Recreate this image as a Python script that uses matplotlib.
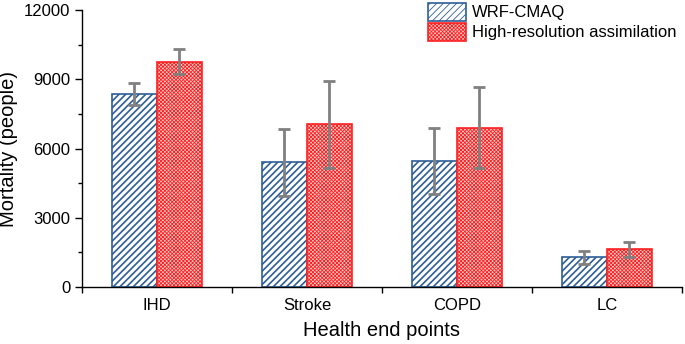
import numpy as np
import matplotlib
matplotlib.use("Agg")
import matplotlib.pyplot as plt
from matplotlib.ticker import MultipleLocator, FixedLocator

plt.rcParams['font.family'] = ['Liberation Sans', 'DejaVu Sans']

# veriler
kategoriler = ["IHD", "Stroke", "COPD", "LC"]
wrf_cmaq = [8360, 5400, 5460, 1280]
wrf_hata = [480, 1450, 1420, 270]
yuksek_coz = [9760, 7050, 6900, 1630]
yuksek_hata = [540, 1880, 1750, 320]

fig = plt.figure(figsize=(6.85, 3.44), dpi=100)
ax = fig.add_axes([0.1197, 0.1657, 0.8759, 0.8052])

x = np.arange(1, len(kategoriler) + 1)
w = 0.3

plt.rcParams['hatch.linewidth'] = 1.2
ax.bar(x - w / 2, wrf_cmaq, w, facecolor="white", edgecolor="#2E5E97",
       hatch="/////", linewidth=1.2, label="WRF-CMAQ", zorder=2)
plt.rcParams['hatch.linewidth'] = 0.6
ax.bar(x + w / 2, yuksek_coz, w, facecolor="#FCCACA", edgecolor="#FF2020",
       hatch="xxxxxxxxx", linewidth=1.2, label="High-resolution assimilation", zorder=2)

ax.errorbar(x - w / 2, wrf_cmaq, yerr=wrf_hata, fmt="none", ecolor="#808080",
            elinewidth=2, capsize=4, capthick=2, zorder=3)
ax.errorbar(x + w / 2, yuksek_coz, yerr=yuksek_hata, fmt="none", ecolor="#808080",
            elinewidth=2, capsize=4, capthick=2, zorder=3)

ax.set_xlim(0.5, 4.5)
ax.set_ylim(0, 12000)
ax.set_xticks(x)
ax.set_xticklabels(kategoriler)
ax.tick_params(axis="x", which="major", length=0, labelsize=12, pad=8)
ax.xaxis.set_minor_locator(FixedLocator([0.5, 1.5, 2.5, 3.5, 4.5]))
ax.tick_params(axis="x", which="minor", length=4, width=1)
ax.yaxis.set_major_locator(MultipleLocator(3000))
ax.yaxis.set_minor_locator(MultipleLocator(1500))
ax.tick_params(axis="y", which="major", length=5, width=1, labelsize=12)
ax.tick_params(axis="y", which="minor", length=3, width=1)

for s in ["top", "right"]:
    ax.spines[s].set_visible(False)
for s in ["left", "bottom"]:
    ax.spines[s].set_linewidth(1)

ax.set_xlabel("Health end points", fontsize=14.5, labelpad=6)
ax.set_ylabel("Mortality (people)", fontsize=14.5, labelpad=4)

ax.legend(loc="upper left", bbox_to_anchor=(0.565, 1.05), frameon=False,
          fontsize=12, handlelength=2.28, handleheight=1.3, borderaxespad=0,
          labelspacing=0.1, handletextpad=0.36)

plt.savefig("out.png", dpi=100)
